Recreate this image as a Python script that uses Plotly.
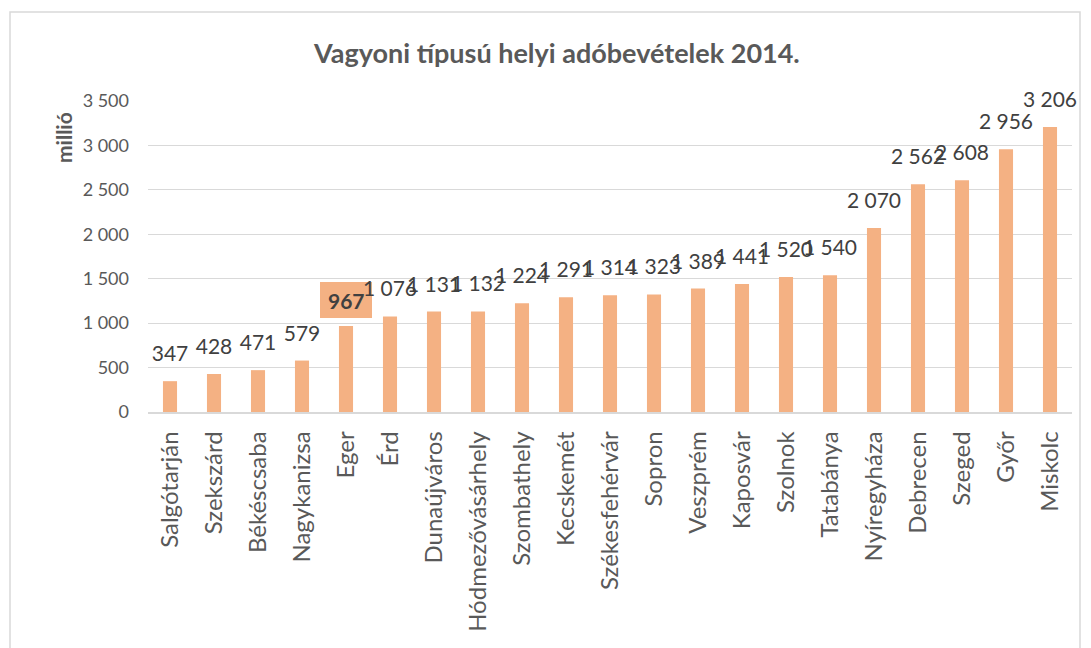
import plotly.graph_objects as go

cities = ["Salgótarján", "Szekszárd", "Békéscsaba", "Nagykanizsa", "Eger", "Érd",
          "Dunaújváros", "Hódmezővásárhely", "Szombathely", "Kecskemét", "Székesfehérvár",
          "Sopron", "Veszprém", "Kaposvár", "Szolnok", "Tatabánya", "Nyíregyháza",
          "Debrecen", "Szeged", "Győr", "Miskolc"]
values = [347, 428, 471, 579, 967, 1076, 1131, 1132, 1224, 1291, 1314,
          1323, 1389, 1441, 1520, 1540, 2070, 2562, 2608, 2956, 3206]
highlight = "Eger"
y_ticks = [0, 500, 1000, 1500, 2000, 2500, 3000, 3500]

bar_color = "#F4B183"
font_family = "Lato, Open Sans, sans-serif"

texts = ["" if c == highlight else f"{v:,}".replace(",", " ") for c, v in zip(cities, values)]

fig = go.Figure()
fig.add_trace(go.Bar(
    x=cities, y=values, marker_color=bar_color, marker_line_width=0,
    hoverinfo="x+y",
))
fig.add_trace(go.Scatter(
    x=cities, y=values, mode="markers+text", text=texts, textposition="top center",
    marker=dict(size=22, opacity=0), cliponaxis=False, hoverinfo="skip",
    textfont=dict(family=font_family, size=21, color="#404040"),
))

hi = cities.index(highlight)
hv = values[hi]
# highlighted label box (drawn below the traces so neighbouring labels overlap it)
fig.add_shape(type="rect", layer="below", xref="x", yref="y",
              xsizemode="pixel", xanchor=hi, x0=-26, x1=26,
              ysizemode="pixel", yanchor=hv, y0=8, y1=44,
              fillcolor=bar_color, line=dict(width=0))
fig.add_annotation(
    x=highlight, y=hv, xref="x", yref="y", yanchor="middle", yshift=26,
    text=f"<b>{hv}</b>", showarrow=False,
    font=dict(family=font_family, size=21, color="#404040"),
)

# page is offset by 8px body margin; positions below are in figure pixels
OFF = 8
W, H = 1083, 640
L, T = 148 - OFF, 101 - OFF
R = W - (1072 - OFF)
B = H - (412 - OFF)
pw, ph = W - L - R, H - T - B

def px_x(p):
    return (p - OFF - L) / pw

def px_y(p):
    return (H - B - (p - OFF)) / ph

fig.add_shape(type="rect", xref="paper", yref="paper",
              x0=px_x(10), x1=px_x(1080), y0=px_y(700), y1=px_y(12),
              line=dict(color="#D9D9D9", width=1.5), fillcolor="rgba(0,0,0,0)", layer="below")

fig.add_annotation(
    xref="paper", yref="paper", x=px_x(556), y=px_y(52), xanchor="center", yanchor="middle",
    text="<b>Vagyoni típusú helyi adóbevételek 2014.</b>", showarrow=False,
    font=dict(family=font_family, size=27, color="#595959"),
)
fig.add_annotation(
    xref="paper", yref="paper", x=px_x(63), y=px_y(138), xanchor="center", yanchor="middle",
    text="<b>millió</b>", showarrow=False, textangle=-90,
    font=dict(family=font_family, size=21, color="#595959"),
)

fig.update_layout(
    width=W, height=H, margin=dict(l=L, r=R, t=T, b=B, autoexpand=False),
    paper_bgcolor="white", plot_bgcolor="white", separators=", ",
    bargap=0.68, showlegend=False,
    font=dict(family=font_family, color="#595959"),
)
fig.update_yaxes(
    range=[0, 3500], tickvals=y_ticks, tickformat=",d",
    showgrid=True, gridcolor="#D9D9D9", gridwidth=1, zeroline=False,
    tickfont=dict(family=font_family, size=18, color="#595959"),
    ticks="", ticklabelstandoff=18, showline=False,
)
fig.update_xaxes(
    range=[-0.5, len(cities) - 0.5],
    tickangle=-90, tickfont=dict(family=font_family, size=24, color="#595959"),
    showline=True, linecolor="#D9D9D9", linewidth=1.5, ticks="", ticklabelstandoff=8,
)

fig.write_html("out.html")
